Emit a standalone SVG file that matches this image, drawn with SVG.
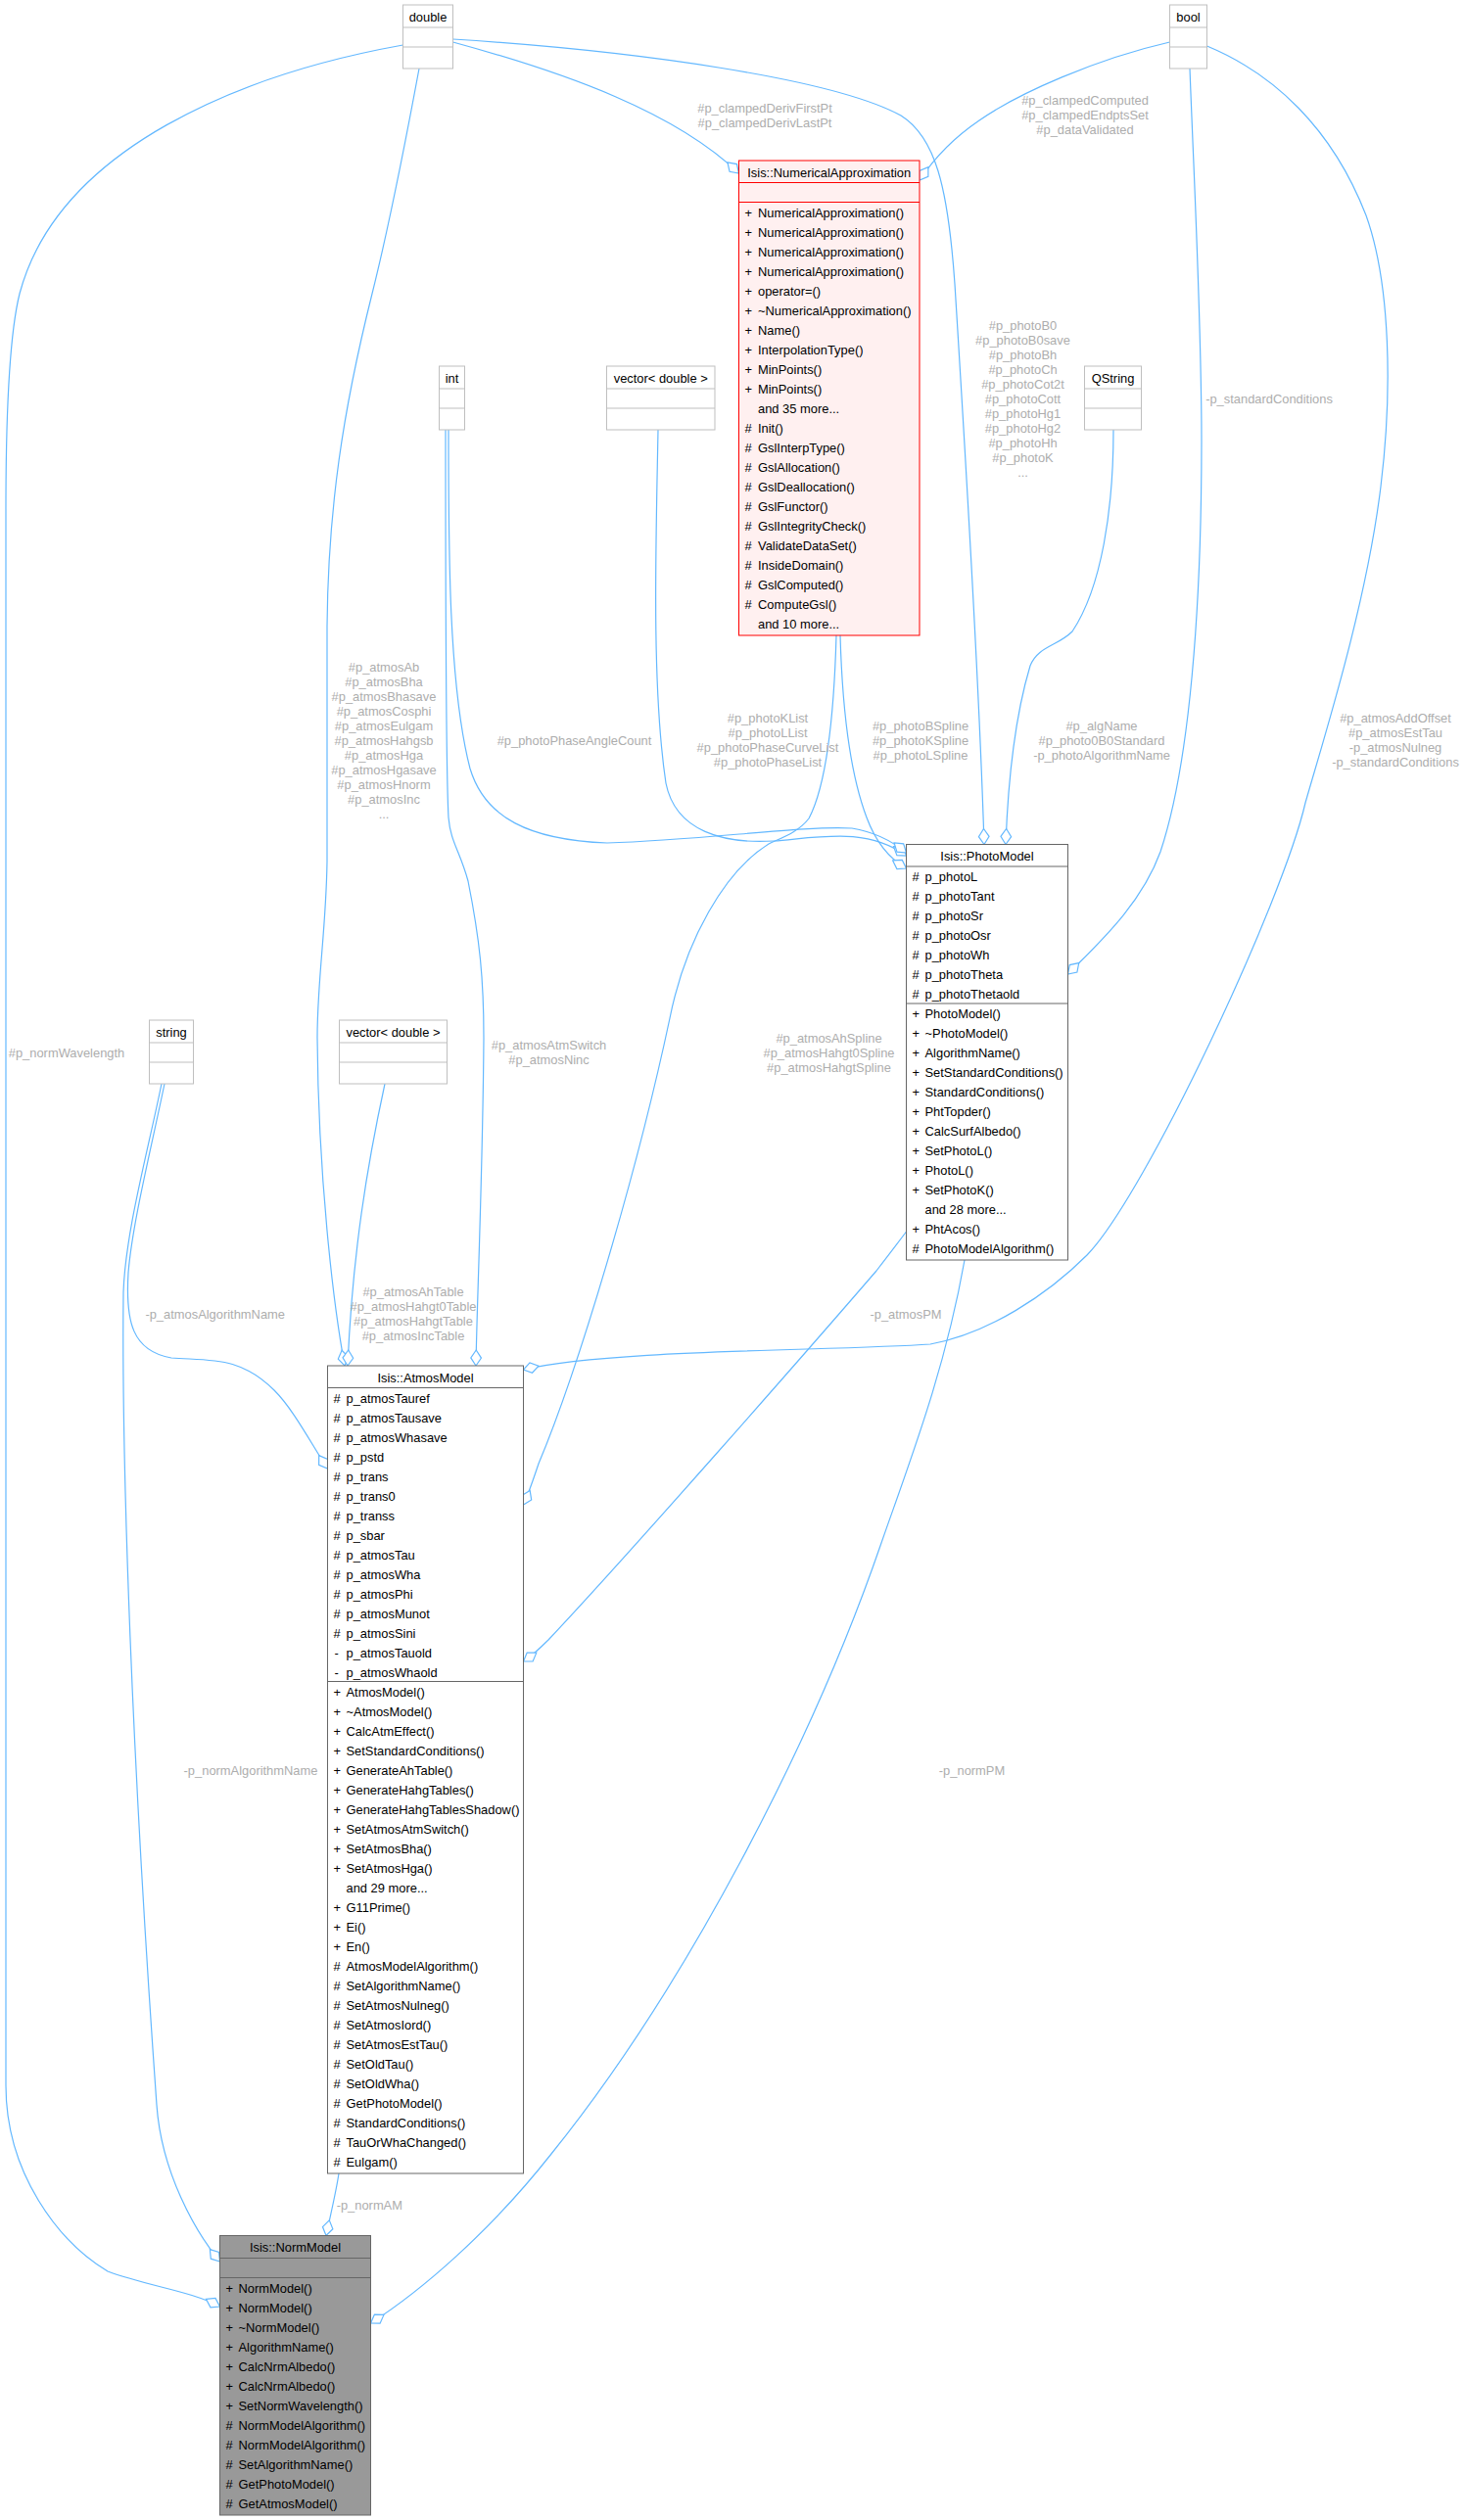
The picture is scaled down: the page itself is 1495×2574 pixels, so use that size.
<svg xmlns="http://www.w3.org/2000/svg" width="1495" height="2574" viewBox="0 0 1495 2574">
<style>
text{font-family:"Liberation Sans",Arial,Helvetica,sans-serif;font-size:12.9px;fill:#000}
.c{text-anchor:middle}
.l{text-anchor:middle;fill:#adadad}
.ty rect{fill:#fff;stroke:#bfbfbf;stroke-width:1}
.ty line{stroke:#bfbfbf;stroke-width:1}
.cl rect{fill:#fff;stroke:#666;stroke-width:1}
.cl line{stroke:#666;stroke-width:1}
.na rect{fill:#fff0f0;stroke:#f00;stroke-width:1}
.na line{stroke:#f00;stroke-width:1}
.nm rect{fill:#999;stroke:#666;stroke-width:1}
.nm line{stroke:#666;stroke-width:1}
.e{fill:none;stroke:#63b8ff;stroke-width:1.2;marker-end:url(#od)}
</style>
<defs>
<marker id="od" markerUnits="userSpaceOnUse" markerWidth="18" markerHeight="12" viewBox="0 0 18 12" refX="16.5" refY="6" orient="auto" overflow="visible">
<polygon points="0.5,6 8.5,0.67 16.5,6 8.5,11.33" fill="#fff" stroke="#63b8ff" stroke-width="1.2"/>
</marker>
</defs>
<rect x="0" y="0" width="1495" height="2574" fill="#fff"/>

<g id="connectors">
<path class="e" d="M462.5,43 C580,75 690,115 754.5,177"/>
<path class="e" d="M462.5,40 C650,52 850,80 920,118 C955,140 968,190 975,290 C985,450 1000,700 1005,862.5"/>
<path class="e" d="M428,70 C415,140 400,220 380,300 C350,420 335,520 334,640 L334,880 C333,950 324,1000 324,1060 C325,1200 340,1330 352,1395"/>
<path class="e" d="M411.5,46 C250,75 60,150 20,300 C10,340 6,420 6,520 L6,2130 C6,2220 60,2290 110,2320 C150,2335 195,2340 224.5,2356"/>
<path class="e" d="M1194.5,43 C1120,60 1040,95 1000,123 C975,140 955,160 939,184"/>
<path class="e" d="M1215,70 C1220,200 1227,330 1227,450 C1227,620 1215,780 1185,870 C1165,925 1120,965 1090.5,995"/>
<path class="e" d="M1232.5,47 C1300,75 1360,130 1395,220 C1420,290 1422,400 1410,497 C1395,620 1350,760 1333,820 C1310,920 1170,1220 1110,1282 C1070,1322 1010,1362 950,1373 C850,1380 620,1378 534.5,1399"/>
<path class="e" d="M672,439 C670,550 665,700 680,800 C690,850 740,862 790,859 C840,855 885,845 925.5,874"/>
<path class="e" d="M458,439 C458,560 458,700 480,785 C495,835 540,858 620,861 C720,858 820,843 870,846 C895,850 912,860 925.5,871"/>
<path class="e" d="M455,439 C455,600 455,780 458,835 C460,860 470,870 478,900 C490,960 494,1000 494,1060 C493,1200 487,1330 486,1395"/>
<path class="e" d="M858,649 C860,720 868,790 885,835 C895,862 910,878 925.5,887"/>
<path class="e" d="M854,649 C852,720 845,800 826,836 C815,850 800,855 785,862 C740,890 700,960 684,1040 C650,1200 590,1400 550,1495 C545,1510 540,1525 534.5,1537"/>
<path class="e" d="M1137,439 C1137,520 1125,600 1095,645 C1080,660 1060,660 1052,680 C1040,720 1030,780 1027,862.5"/>
<path class="e" d="M168,1107 C155,1170 135,1250 131,1300 C128,1350 135,1380 175,1387 C215,1390 245,1385 280,1420 C300,1440 318,1475 334.5,1500"/>
<path class="e" d="M165,1107 C150,1180 128,1260 126,1320 C124,1500 135,1800 160,2150 C165,2220 200,2280 224.5,2310"/>
<path class="e" d="M393,1107 C375,1190 360,1280 355,1395"/>
<path class="e" d="M925.5,1258 C915,1272 905,1285 895,1298 C820,1385 640,1590 560,1675 C552,1683 545,1690 534.5,1697"/>
<path class="e" d="M985,1287 C965,1400 930,1490 900,1576 C830,1780 700,2030 563,2200 C500,2280 430,2340 378.5,2373"/>
<path class="e" d="M346,2220 C343,2240 338,2260 333,2283.5"/>

<text class="l" x="781" y="115">#p_clampedDerivFirstPt</text>
<text class="l" x="781" y="130">#p_clampedDerivLastPt</text>
<text class="l" x="1108" y="106.5">#p_clampedComputed</text>
<text class="l" x="1108" y="121.5">#p_clampedEndptsSet</text>
<text class="l" x="1108" y="136.5">#p_dataValidated</text>
<text class="l" x="1044.5" y="337">#p_photoB0</text>
<text class="l" x="1044.5" y="352">#p_photoB0save</text>
<text class="l" x="1044.5" y="367">#p_photoBh</text>
<text class="l" x="1044.5" y="382">#p_photoCh</text>
<text class="l" x="1044.5" y="397">#p_photoCot2t</text>
<text class="l" x="1044.5" y="412">#p_photoCott</text>
<text class="l" x="1044.5" y="427">#p_photoHg1</text>
<text class="l" x="1044.5" y="442">#p_photoHg2</text>
<text class="l" x="1044.5" y="457">#p_photoHh</text>
<text class="l" x="1044.5" y="472">#p_photoK</text>
<text class="l" x="1044.5" y="487">...</text>
<text class="l" x="1296" y="411.5">-p_standardConditions</text>
<text class="l" x="392" y="686">#p_atmosAb</text>
<text class="l" x="392" y="701">#p_atmosBha</text>
<text class="l" x="392" y="716">#p_atmosBhasave</text>
<text class="l" x="392" y="731">#p_atmosCosphi</text>
<text class="l" x="392" y="746">#p_atmosEulgam</text>
<text class="l" x="392" y="761">#p_atmosHahgsb</text>
<text class="l" x="392" y="776">#p_atmosHga</text>
<text class="l" x="392" y="791">#p_atmosHgasave</text>
<text class="l" x="392" y="806">#p_atmosHnorm</text>
<text class="l" x="392" y="821">#p_atmosInc</text>
<text class="l" x="392" y="836">...</text>
<text class="l" x="586.5" y="761">#p_photoPhaseAngleCount</text>
<text class="l" x="784" y="738">#p_photoKList</text>
<text class="l" x="784" y="753">#p_photoLList</text>
<text class="l" x="784" y="768">#p_photoPhaseCurveList</text>
<text class="l" x="784" y="783">#p_photoPhaseList</text>
<text class="l" x="940" y="746">#p_photoBSpline</text>
<text class="l" x="940" y="761">#p_photoKSpline</text>
<text class="l" x="940" y="776">#p_photoLSpline</text>
<text class="l" x="1125" y="746">#p_algName</text>
<text class="l" x="1125" y="761">#p_photo0B0Standard</text>
<text class="l" x="1125" y="776">-p_photoAlgorithmName</text>
<text class="l" x="1425" y="737.5">#p_atmosAddOffset</text>
<text class="l" x="1425" y="752.5">#p_atmosEstTau</text>
<text class="l" x="1425" y="767.5">-p_atmosNulneg</text>
<text class="l" x="1425" y="782.5">-p_standardConditions</text>
<text class="l" x="68" y="1080">#p_normWavelength</text>
<text class="l" x="219.7" y="1346.5">-p_atmosAlgorithmName</text>
<text class="l" x="560.5" y="1072">#p_atmosAtmSwitch</text>
<text class="l" x="560.5" y="1087">#p_atmosNinc</text>
<text class="l" x="846.5" y="1065">#p_atmosAhSpline</text>
<text class="l" x="846.5" y="1080">#p_atmosHahgt0Spline</text>
<text class="l" x="846.5" y="1095">#p_atmosHahgtSpline</text>
<text class="l" x="422" y="1323.5">#p_atmosAhTable</text>
<text class="l" x="422" y="1338.5">#p_atmosHahgt0Table</text>
<text class="l" x="422" y="1353.5">#p_atmosHahgtTable</text>
<text class="l" x="422" y="1368.5">#p_atmosIncTable</text>
<text class="l" x="925" y="1346.5">-p_atmosPM</text>
<text class="l" x="256" y="1812.5">-p_normAlgorithmName</text>
<text class="l" x="992.5" y="1812.5">-p_normPM</text>
<text class="l" x="377.3" y="2256.5">-p_normAM</text>
</g>

<g id="node-double" class="ty" transform="translate(411.5,5)">
<rect x="0" y="0" width="51" height="65"/><line x1="0" y1="23" x2="51" y2="23"/><line x1="0" y1="43" x2="51" y2="43"/>
<text class="c" x="25.5" y="16.8">double</text>
</g>
<g id="node-bool" class="ty" transform="translate(1194.5,5)">
<rect x="0" y="0" width="38" height="65"/><line x1="0" y1="23" x2="38" y2="23"/><line x1="0" y1="43" x2="38" y2="43"/>
<text class="c" x="19" y="16.8">bool</text>
</g>
<g id="node-int" class="ty" transform="translate(448.5,374)">
<rect x="0" y="0" width="26" height="65"/><line x1="0" y1="23" x2="26" y2="23"/><line x1="0" y1="43" x2="26" y2="43"/>
<text class="c" x="13" y="16.8">int</text>
</g>
<g id="node-vector-double-1" class="ty" transform="translate(619.5,374)">
<rect x="0" y="0" width="110.5" height="65"/><line x1="0" y1="23" x2="110.5" y2="23"/><line x1="0" y1="43" x2="110.5" y2="43"/>
<text class="c" x="55.25" y="16.8">vector&lt; double &gt;</text>
</g>
<g id="node-QString" class="ty" transform="translate(1107.5,374)">
<rect x="0" y="0" width="58" height="65"/><line x1="0" y1="23" x2="58" y2="23"/><line x1="0" y1="43" x2="58" y2="43"/>
<text class="c" x="29" y="16.8">QString</text>
</g>
<g id="node-string" class="ty" transform="translate(152.5,1042)">
<rect x="0" y="0" width="45" height="65"/><line x1="0" y1="23" x2="45" y2="23"/><line x1="0" y1="43" x2="45" y2="43"/>
<text class="c" x="22.5" y="16.8">string</text>
</g>
<g id="node-vector-double-2" class="ty" transform="translate(346.5,1042)">
<rect x="0" y="0" width="110" height="65"/><line x1="0" y1="23" x2="110" y2="23"/><line x1="0" y1="43" x2="110" y2="43"/>
<text class="c" x="55" y="16.8">vector&lt; double &gt;</text>
</g>

<g id="node-NumericalApproximation" class="na" transform="translate(754.5,164)">
<rect x="0" y="0" width="184.5" height="485"/><line x1="0" y1="22.5" x2="184.5" y2="22.5"/><line x1="0" y1="42.5" x2="184.5" y2="42.5"/>
<text class="c" x="92.25" y="16.8">Isis::NumericalApproximation</text>
<text x="6" y="57.5">+</text><text x="19.5" y="57.5">NumericalApproximation()</text>
<text x="6" y="77.5">+</text><text x="19.5" y="77.5">NumericalApproximation()</text>
<text x="6" y="97.5">+</text><text x="19.5" y="97.5">NumericalApproximation()</text>
<text x="6" y="117.5">+</text><text x="19.5" y="117.5">NumericalApproximation()</text>
<text x="6" y="137.5">+</text><text x="19.5" y="137.5">operator=()</text>
<text x="6" y="157.5">+</text><text x="19.5" y="157.5">~NumericalApproximation()</text>
<text x="6" y="177.5">+</text><text x="19.5" y="177.5">Name()</text>
<text x="6" y="197.5">+</text><text x="19.5" y="197.5">InterpolationType()</text>
<text x="6" y="217.5">+</text><text x="19.5" y="217.5">MinPoints()</text>
<text x="6" y="237.5">+</text><text x="19.5" y="237.5">MinPoints()</text>
<text x="19.5" y="257.5">and 35 more...</text>
<text x="6" y="277.5">#</text><text x="19.5" y="277.5">Init()</text>
<text x="6" y="297.5">#</text><text x="19.5" y="297.5">GslInterpType()</text>
<text x="6" y="317.5">#</text><text x="19.5" y="317.5">GslAllocation()</text>
<text x="6" y="337.5">#</text><text x="19.5" y="337.5">GslDeallocation()</text>
<text x="6" y="357.5">#</text><text x="19.5" y="357.5">GslFunctor()</text>
<text x="6" y="377.5">#</text><text x="19.5" y="377.5">GslIntegrityCheck()</text>
<text x="6" y="397.5">#</text><text x="19.5" y="397.5">ValidateDataSet()</text>
<text x="6" y="417.5">#</text><text x="19.5" y="417.5">InsideDomain()</text>
<text x="6" y="437.5">#</text><text x="19.5" y="437.5">GslComputed()</text>
<text x="6" y="457.5">#</text><text x="19.5" y="457.5">ComputeGsl()</text>
<text x="19.5" y="477.5">and 10 more...</text>
</g>

<g id="node-PhotoModel" class="cl" transform="translate(925.5,862.5)">
<rect x="0" y="0" width="165" height="424.5"/><line x1="0" y1="22.5" x2="165" y2="22.5"/><line x1="0" y1="162.5" x2="165" y2="162.5"/>
<text class="c" x="82.5" y="16.8">Isis::PhotoModel</text>
<text x="6" y="37.5">#</text><text x="19" y="37.5">p_photoL</text>
<text x="6" y="57.5">#</text><text x="19" y="57.5">p_photoTant</text>
<text x="6" y="77.5">#</text><text x="19" y="77.5">p_photoSr</text>
<text x="6" y="97.5">#</text><text x="19" y="97.5">p_photoOsr</text>
<text x="6" y="117.5">#</text><text x="19" y="117.5">p_photoWh</text>
<text x="6" y="137.5">#</text><text x="19" y="137.5">p_photoTheta</text>
<text x="6" y="157.5">#</text><text x="19" y="157.5">p_photoThetaold</text>
<text x="6" y="177.5">+</text><text x="19" y="177.5">PhotoModel()</text>
<text x="6" y="197.5">+</text><text x="19" y="197.5">~PhotoModel()</text>
<text x="6" y="217.5">+</text><text x="19" y="217.5">AlgorithmName()</text>
<text x="6" y="237.5">+</text><text x="19" y="237.5">SetStandardConditions()</text>
<text x="6" y="257.5">+</text><text x="19" y="257.5">StandardConditions()</text>
<text x="6" y="277.5">+</text><text x="19" y="277.5">PhtTopder()</text>
<text x="6" y="297.5">+</text><text x="19" y="297.5">CalcSurfAlbedo()</text>
<text x="6" y="317.5">+</text><text x="19" y="317.5">SetPhotoL()</text>
<text x="6" y="337.5">+</text><text x="19" y="337.5">PhotoL()</text>
<text x="6" y="357.5">+</text><text x="19" y="357.5">SetPhotoK()</text>
<text x="19" y="377.5">and 28 more...</text>
<text x="6" y="397.5">+</text><text x="19" y="397.5">PhtAcos()</text>
<text x="6" y="417.5">#</text><text x="19" y="417.5">PhotoModelAlgorithm()</text>
</g>

<g id="node-AtmosModel" class="cl" transform="translate(334.5,1395)">
<rect x="0" y="0" width="200" height="825"/><line x1="0" y1="22.5" x2="200" y2="22.5"/><line x1="0" y1="322.5" x2="200" y2="322.5"/>
<text class="c" x="100" y="16.8">Isis::AtmosModel</text>
<text x="6" y="37.5">#</text><text x="19" y="37.5">p_atmosTauref</text>
<text x="6" y="57.5">#</text><text x="19" y="57.5">p_atmosTausave</text>
<text x="6" y="77.5">#</text><text x="19" y="77.5">p_atmosWhasave</text>
<text x="6" y="97.5">#</text><text x="19" y="97.5">p_pstd</text>
<text x="6" y="117.5">#</text><text x="19" y="117.5">p_trans</text>
<text x="6" y="137.5">#</text><text x="19" y="137.5">p_trans0</text>
<text x="6" y="157.5">#</text><text x="19" y="157.5">p_transs</text>
<text x="6" y="177.5">#</text><text x="19" y="177.5">p_sbar</text>
<text x="6" y="197.5">#</text><text x="19" y="197.5">p_atmosTau</text>
<text x="6" y="217.5">#</text><text x="19" y="217.5">p_atmosWha</text>
<text x="6" y="237.5">#</text><text x="19" y="237.5">p_atmosPhi</text>
<text x="6" y="257.5">#</text><text x="19" y="257.5">p_atmosMunot</text>
<text x="6" y="277.5">#</text><text x="19" y="277.5">p_atmosSini</text>
<text x="7" y="297.5">-</text><text x="19" y="297.5">p_atmosTauold</text>
<text x="7" y="317.5">-</text><text x="19" y="317.5">p_atmosWhaold</text>
<text x="6" y="337.5">+</text><text x="19" y="337.5">AtmosModel()</text>
<text x="6" y="357.5">+</text><text x="19" y="357.5">~AtmosModel()</text>
<text x="6" y="377.5">+</text><text x="19" y="377.5">CalcAtmEffect()</text>
<text x="6" y="397.5">+</text><text x="19" y="397.5">SetStandardConditions()</text>
<text x="6" y="417.5">+</text><text x="19" y="417.5">GenerateAhTable()</text>
<text x="6" y="437.5">+</text><text x="19" y="437.5">GenerateHahgTables()</text>
<text x="6" y="457.5">+</text><text x="19" y="457.5">GenerateHahgTablesShadow()</text>
<text x="6" y="477.5">+</text><text x="19" y="477.5">SetAtmosAtmSwitch()</text>
<text x="6" y="497.5">+</text><text x="19" y="497.5">SetAtmosBha()</text>
<text x="6" y="517.5">+</text><text x="19" y="517.5">SetAtmosHga()</text>
<text x="19" y="537.5">and 29 more...</text>
<text x="6" y="557.5">+</text><text x="19" y="557.5">G11Prime()</text>
<text x="6" y="577.5">+</text><text x="19" y="577.5">Ei()</text>
<text x="6" y="597.5">+</text><text x="19" y="597.5">En()</text>
<text x="6" y="617.5">#</text><text x="19" y="617.5">AtmosModelAlgorithm()</text>
<text x="6" y="637.5">#</text><text x="19" y="637.5">SetAlgorithmName()</text>
<text x="6" y="657.5">#</text><text x="19" y="657.5">SetAtmosNulneg()</text>
<text x="6" y="677.5">#</text><text x="19" y="677.5">SetAtmosIord()</text>
<text x="6" y="697.5">#</text><text x="19" y="697.5">SetAtmosEstTau()</text>
<text x="6" y="717.5">#</text><text x="19" y="717.5">SetOldTau()</text>
<text x="6" y="737.5">#</text><text x="19" y="737.5">SetOldWha()</text>
<text x="6" y="757.5">#</text><text x="19" y="757.5">GetPhotoModel()</text>
<text x="6" y="777.5">#</text><text x="19" y="777.5">StandardConditions()</text>
<text x="6" y="797.5">#</text><text x="19" y="797.5">TauOrWhaChanged()</text>
<text x="6" y="817.5">#</text><text x="19" y="817.5">Eulgam()</text>
</g>

<g id="node-NormModel" class="nm" transform="translate(224.5,2283.5)">
<rect x="0" y="0" width="154" height="285.5"/><line x1="0" y1="23" x2="154" y2="23"/><line x1="0" y1="43" x2="154" y2="43"/>
<text class="c" x="77" y="16.8">Isis::NormModel</text>
<text x="6" y="58">+</text><text x="19" y="58">NormModel()</text>
<text x="6" y="78">+</text><text x="19" y="78">NormModel()</text>
<text x="6" y="98">+</text><text x="19" y="98">~NormModel()</text>
<text x="6" y="118">+</text><text x="19" y="118">AlgorithmName()</text>
<text x="6" y="138">+</text><text x="19" y="138">CalcNrmAlbedo()</text>
<text x="6" y="158">+</text><text x="19" y="158">CalcNrmAlbedo()</text>
<text x="6" y="178">+</text><text x="19" y="178">SetNormWavelength()</text>
<text x="6" y="198">#</text><text x="19" y="198">NormModelAlgorithm()</text>
<text x="6" y="218">#</text><text x="19" y="218">NormModelAlgorithm()</text>
<text x="6" y="238">#</text><text x="19" y="238">SetAlgorithmName()</text>
<text x="6" y="258">#</text><text x="19" y="258">GetPhotoModel()</text>
<text x="6" y="278">#</text><text x="19" y="278">GetAtmosModel()</text>
</g>
</svg>
